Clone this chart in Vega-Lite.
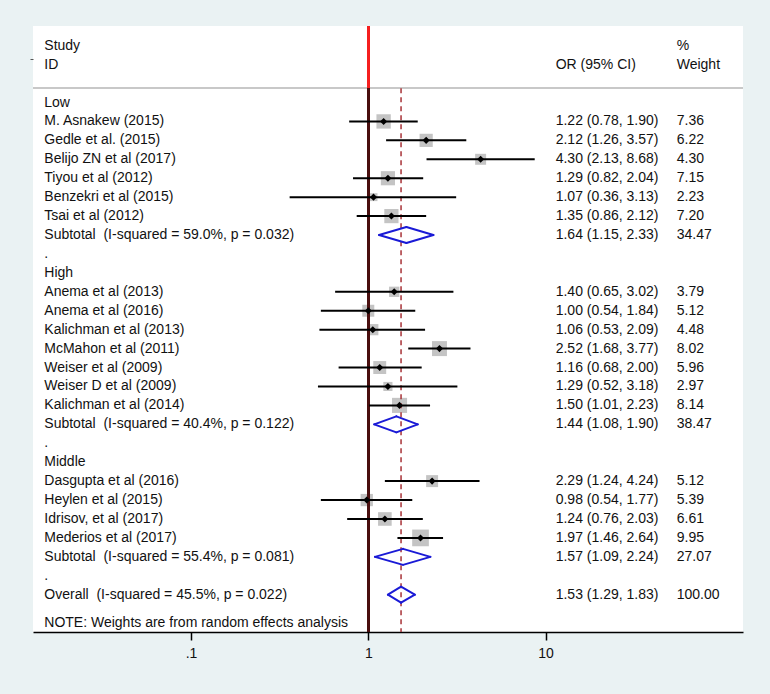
{
  "$schema": "https://vega.github.io/schema/vega-lite/v6.json",
  "width": 710,
  "height": 606,
  "autosize": {"type": "none"},
  "padding": {"left": 33, "top": 26, "right": 27, "bottom": 62},
  "background": "#eaf2f3",
  "config": {
    "view": {"fill": "#ffffff", "stroke": null},
    "text": {"font": "Liberation Sans", "fontSize": 14, "color": "#111111"},
    "axis": {"labelFont": "Liberation Sans"}
  },
  "data": {
    "values": [
      {"row": -3, "type": "header", "label": "Study", "ortext": "", "wtext": "%"},
      {"row": -2, "type": "header", "label": "ID", "ortext": "OR (95% CI)", "wtext": "Weight"},
      {"row": 0, "type": "group", "label": "Low", "ortext": "", "wtext": ""},
      {"row": 1, "type": "study", "label": "M. Asnakew (2015)", "est": 1.22, "lo": 0.78, "hi": 1.90, "weight": 7.36, "ortext": "1.22 (0.78, 1.90)", "wtext": "7.36"},
      {"row": 2, "type": "study", "label": "Gedle et al. (2015)", "est": 2.12, "lo": 1.26, "hi": 3.57, "weight": 6.22, "ortext": "2.12 (1.26, 3.57)", "wtext": "6.22"},
      {"row": 3, "type": "study", "label": "Belijo ZN et al (2017)", "est": 4.30, "lo": 2.13, "hi": 8.68, "weight": 4.30, "ortext": "4.30 (2.13, 8.68)", "wtext": "4.30"},
      {"row": 4, "type": "study", "label": "Tiyou et al (2012)", "est": 1.29, "lo": 0.82, "hi": 2.04, "weight": 7.15, "ortext": "1.29 (0.82, 2.04)", "wtext": "7.15"},
      {"row": 5, "type": "study", "label": "Benzekri et al (2015)", "est": 1.07, "lo": 0.36, "hi": 3.13, "weight": 2.23, "ortext": "1.07 (0.36, 3.13)", "wtext": "2.23"},
      {"row": 6, "type": "study", "label": "Tsai et al (2012)", "est": 1.35, "lo": 0.86, "hi": 2.12, "weight": 7.20, "ortext": "1.35 (0.86, 2.12)", "wtext": "7.20"},
      {"row": 7, "type": "subtotal", "label": "Subtotal\u00a0 (I-squared = 59.0%, p = 0.032)", "est": 1.64, "lo": 1.15, "hi": 2.33, "weight": 34.47, "ortext": "1.64 (1.15, 2.33)", "wtext": "34.47"},
      {"row": 8, "type": "blank", "label": ".", "ortext": "", "wtext": ""},
      {"row": 9, "type": "group", "label": "High", "ortext": "", "wtext": ""},
      {"row": 10, "type": "study", "label": "Anema et al (2013)", "est": 1.40, "lo": 0.65, "hi": 3.02, "weight": 3.79, "ortext": "1.40 (0.65, 3.02)", "wtext": "3.79"},
      {"row": 11, "type": "study", "label": "Anema et al (2016)", "est": 1.00, "lo": 0.54, "hi": 1.84, "weight": 5.12, "ortext": "1.00 (0.54, 1.84)", "wtext": "5.12"},
      {"row": 12, "type": "study", "label": "Kalichman et al (2013)", "est": 1.06, "lo": 0.53, "hi": 2.09, "weight": 4.48, "ortext": "1.06 (0.53, 2.09)", "wtext": "4.48"},
      {"row": 13, "type": "study", "label": "McMahon et al (2011)", "est": 2.52, "lo": 1.68, "hi": 3.77, "weight": 8.02, "ortext": "2.52 (1.68, 3.77)", "wtext": "8.02"},
      {"row": 14, "type": "study", "label": "Weiser et al (2009)", "est": 1.16, "lo": 0.68, "hi": 2.00, "weight": 5.96, "ortext": "1.16 (0.68, 2.00)", "wtext": "5.96"},
      {"row": 15, "type": "study", "label": "Weiser D et al (2009)", "est": 1.29, "lo": 0.52, "hi": 3.18, "weight": 2.97, "ortext": "1.29 (0.52, 3.18)", "wtext": "2.97"},
      {"row": 16, "type": "study", "label": "Kalichman et al (2014)", "est": 1.50, "lo": 1.01, "hi": 2.23, "weight": 8.14, "ortext": "1.50 (1.01, 2.23)", "wtext": "8.14"},
      {"row": 17, "type": "subtotal", "label": "Subtotal\u00a0 (I-squared = 40.4%, p = 0.122)", "est": 1.44, "lo": 1.08, "hi": 1.90, "weight": 38.47, "ortext": "1.44 (1.08, 1.90)", "wtext": "38.47"},
      {"row": 18, "type": "blank", "label": ".", "ortext": "", "wtext": ""},
      {"row": 19, "type": "group", "label": "Middle", "ortext": "", "wtext": ""},
      {"row": 20, "type": "study", "label": "Dasgupta et al (2016)", "est": 2.29, "lo": 1.24, "hi": 4.24, "weight": 5.12, "ortext": "2.29 (1.24, 4.24)", "wtext": "5.12"},
      {"row": 21, "type": "study", "label": "Heylen et al (2015)", "est": 0.98, "lo": 0.54, "hi": 1.77, "weight": 5.39, "ortext": "0.98 (0.54, 1.77)", "wtext": "5.39"},
      {"row": 22, "type": "study", "label": "Idrisov, et al (2017)", "est": 1.24, "lo": 0.76, "hi": 2.03, "weight": 6.61, "ortext": "1.24 (0.76, 2.03)", "wtext": "6.61"},
      {"row": 23, "type": "study", "label": "Mederios et al (2017)", "est": 1.97, "lo": 1.46, "hi": 2.64, "weight": 9.95, "ortext": "1.97 (1.46, 2.64)", "wtext": "9.95"},
      {"row": 24, "type": "subtotal", "label": "Subtotal\u00a0 (I-squared = 55.4%, p = 0.081)", "est": 1.57, "lo": 1.09, "hi": 2.24, "weight": 27.07, "ortext": "1.57 (1.09, 2.24)", "wtext": "27.07"},
      {"row": 25, "type": "blank", "label": ".", "ortext": "", "wtext": ""},
      {"row": 26, "type": "overall", "label": "Overall\u00a0 (I-squared = 45.5%, p = 0.022)", "est": 1.53, "lo": 1.29, "hi": 1.83, "weight": 100.00, "ortext": "1.53 (1.29, 1.83)", "wtext": "100.00"},
      {"row": 27.5, "type": "note", "label": "NOTE: Weights are from random effects analysis", "ortext": "", "wtext": ""}
    ]
  },
  "encoding": {
    "y": {
      "field": "row",
      "type": "quantitative",
      "scale": {"domain": [-4.041, 27.97], "reverse": true, "nice": false, "zero": false},
      "axis": {"values": [-2.3], "labels": false, "domain": false, "grid": false, "ticks": true, "tickSize": 3, "tickColor": "#555555", "title": null}
    }
  },
  "layer": [
    {
      "mark": {"type": "rule", "color": "#c8c8c8", "strokeWidth": 1},
      "encoding": {"y": {"datum": -0.75}}
    },
    {
      "mark": {"type": "rule", "color": "#f52020", "strokeWidth": 2},
      "encoding": {
        "x": {"datum": 1, "type": "quantitative", "scale": {"type": "log", "domain": [0.01285, 129.8], "nice": false},
          "axis": {"values": [0.1, 1, 10], "labelExpr": "datum.value < 1 ? '.1' : format(datum.value, 'd')", "title": null, "grid": false,
            "domainColor": "#000000", "domainWidth": 1.5, "tickColor": "#000000", "tickWidth": 1.5, "tickSize": 8,
            "labelFontSize": 14, "labelColor": "#111111", "labelPadding": 6}},
        "y": {"datum": -4.041},
        "y2": {"datum": -0.75}
      }
    },
    {
      "mark": {"type": "point", "shape": "square", "filled": true, "color": "#c4c4c4", "opacity": 1},
      "transform": [{"filter": "datum.type == 'study'"}],
      "encoding": {
        "x": {"field": "est", "type": "quantitative"},
        "y": {"field": "row", "type": "quantitative"},
        "size": {"field": "weight", "type": "quantitative", "scale": {"type": "linear", "domain": [0, 10], "range": [0, 280], "zero": true}, "legend": null}
      }
    },
    {
      "mark": {"type": "rule", "color": "#4a1010", "strokeWidth": 2},
      "encoding": {
        "x": {"datum": 1},
        "y": {"datum": -0.75},
        "y2": {"datum": 27.97}
      }
    },
    {
      "mark": {"type": "rule", "color": "#a83238", "strokeWidth": 1.5, "strokeDash": [5, 4]},
      "transform": [{"filter": "datum.type == 'overall'"}],
      "encoding": {
        "x": {"field": "est", "type": "quantitative"},
        "y": {"datum": -0.75},
        "y2": {"datum": 27.97}
      }
    },
    {
      "mark": {"type": "rule", "color": "#000000", "strokeWidth": 2},
      "transform": [{"filter": "datum.type == 'study'"}],
      "encoding": {
        "x": {"field": "lo", "type": "quantitative"},
        "x2": {"field": "hi"},
        "y": {"field": "row", "type": "quantitative"}
      }
    },
    {
      "mark": {"type": "point", "shape": "diamond", "filled": true, "color": "#000000", "size": 50, "opacity": 1},
      "transform": [{"filter": "datum.type == 'study'"}],
      "encoding": {
        "x": {"field": "est", "type": "quantitative"},
        "y": {"field": "row", "type": "quantitative"}
      }
    },
    {
      "mark": {"type": "rule", "color": "#1a1ad6", "strokeWidth": 2, "strokeCap": "round", "y2Offset": -8},
      "transform": [{"filter": "datum.type == 'subtotal' || datum.type == 'overall'"}],
      "encoding": {
        "x": {"field": "lo", "type": "quantitative"},
        "x2": {"field": "est"},
        "y": {"field": "row", "type": "quantitative"},
        "y2": {"field": "row"}
      }
    },
    {
      "mark": {"type": "rule", "color": "#1a1ad6", "strokeWidth": 2, "strokeCap": "round", "yOffset": -8},
      "transform": [{"filter": "datum.type == 'subtotal' || datum.type == 'overall'"}],
      "encoding": {
        "x": {"field": "est", "type": "quantitative"},
        "x2": {"field": "hi"},
        "y": {"field": "row", "type": "quantitative"},
        "y2": {"field": "row"}
      }
    },
    {
      "mark": {"type": "rule", "color": "#1a1ad6", "strokeWidth": 2, "strokeCap": "round", "y2Offset": 8},
      "transform": [{"filter": "datum.type == 'subtotal' || datum.type == 'overall'"}],
      "encoding": {
        "x": {"field": "lo", "type": "quantitative"},
        "x2": {"field": "est"},
        "y": {"field": "row", "type": "quantitative"},
        "y2": {"field": "row"}
      }
    },
    {
      "mark": {"type": "rule", "color": "#1a1ad6", "strokeWidth": 2, "strokeCap": "round", "yOffset": 8},
      "transform": [{"filter": "datum.type == 'subtotal' || datum.type == 'overall'"}],
      "encoding": {
        "x": {"field": "est", "type": "quantitative"},
        "x2": {"field": "hi"},
        "y": {"field": "row", "type": "quantitative"},
        "y2": {"field": "row"}
      }
    },
    {
      "mark": {"type": "text", "align": "left", "baseline": "middle"},
      "encoding": {
        "x": {"datum": 0.01488},
        "y": {"field": "row", "type": "quantitative"},
        "text": {"field": "label"}
      }
    },
    {
      "mark": {"type": "text", "align": "left", "baseline": "middle"},
      "encoding": {
        "x": {"datum": 11.40},
        "y": {"field": "row", "type": "quantitative"},
        "text": {"field": "ortext"}
      }
    },
    {
      "mark": {"type": "text", "align": "left", "baseline": "middle"},
      "encoding": {
        "x": {"datum": 54.88},
        "y": {"field": "row", "type": "quantitative"},
        "text": {"field": "wtext"}
      }
    }
  ]
}
